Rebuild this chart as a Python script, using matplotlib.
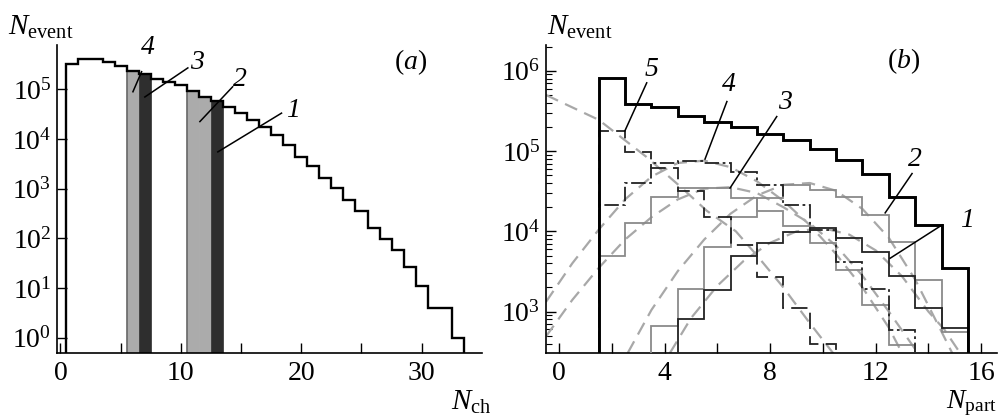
import numpy as np
import matplotlib
matplotlib.use("Agg")
import matplotlib.pyplot as plt

plt.rcParams['font.family'] = 'serif'
plt.rcParams['font.serif'] = ['Liberation Serif', 'DejaVu Serif']
plt.rcParams['mathtext.fontset'] = 'custom'
plt.rcParams['mathtext.rm'] = 'Liberation Serif'
plt.rcParams['mathtext.it'] = 'Liberation Serif:italic'

# ---- panel (a): N_ch distribution ----
nch = np.arange(1, 34)
nch_counts = [3.2e5, 4.1e5, 4.0e5, 3.5e5, 2.95e5, 2.37e5, 2.0e5, 1.6e5, 1.4e5, 1.22e5,
              9.2e4, 7.1e4, 5.9e4, 4.4e4, 3.3e4, 2.4e4, 1.74e4, 1.2e4, 7.6e3, 4.4e3,
              2.9e3, 1.66e3, 1.02e3, 590, 355, 164, 98, 59, 27, 11, 4, 4, 1]
grey_bins = [6, 11, 12]   # windows 4 and 2
dark_bins = [7, 13]       # windows 3 and 1

# ---- panel (b): N_part distributions ----
total_x = np.arange(2, 16)
total_y = [8.2e5, 3.85e5, 3.5e5, 2.7e5, 2.33e5, 2.0e5, 1.62e5, 1.38e5, 1.06e5, 7.8e4,
           5.2e4, 2.7e4, 1.2e4, 3.5e3]
c1_x = np.arange(5, 16)
c1_y = [800, 1860, 5000, 7200, 9800, 1.1e4, 8200, 5500, 2800, 1100, 620]
c2_x = np.arange(4, 16)
c2_y = [660, 1900, 6300, 1.5e4, 2.6e4, 3.8e4, 3.3e4, 2.7e4, 1.6e4, 7400, 2500, 560]
c3_x = np.arange(2, 14)
c3_y = [5000, 1.26e4, 2.7e4, 3.5e4, 3.5e4, 2.6e4, 1.8e4, 1.17e4, 7100, 3300, 1200, 380]
c4_x = np.arange(2, 14)
c4_y = [2.1e4, 4.0e4, 7.1e4, 7.5e4, 7.1e4, 5.5e4, 3.8e4, 2.1e4, 1.05e4, 4200, 1900, 590]
c5_x = np.arange(2, 11)
c5_y = [1.8e5, 9.8e4, 6.1e4, 3.2e4, 1.5e4, 6800, 2700, 1100, 400]

# fitted curves
f5_x = [-0.5, 1.5, 3.3, 4.6, 5.6, 6.7, 7.5, 8.5, 9.5, 10.4]
f5_y = [5.0e5, 2.45e5, 8.5e4, 3.6e4, 1.8e4, 1.0e4, 5.0e3, 2.0e3, 720, 300]
f4_x = [-0.5, 0.5, 1.5, 2.5, 3.5, 4.5, 5.5, 6.5, 7.5, 8.5, 9.5, 10.5, 11.5, 12.5, 13.0]
f4_y = [1320, 4000, 1.05e4, 2.5e4, 4.8e4, 7.1e4, 7.6e4, 6.3e4, 4.2e4, 2.4e4, 1.2e4,
        5200, 2000, 630, 305]
f3_x = [-0.5, 0.5, 1.5, 2.5, 3.5, 4.5, 5.5, 6.5, 7.5, 8.5, 9.5, 10.5, 11.5, 12.5, 13.6]
f3_y = [490, 1400, 3500, 7900, 1.5e4, 2.5e4, 3.4e4, 3.55e4, 3.0e4, 2.0e4, 1.26e4, 6600,
        2800, 1000, 305]
f2_x = [2.6, 3.5, 4.5, 5.5, 6.5, 7.5, 8.5, 9.5, 10.5, 11.5, 12.5, 13.5, 14.5, 14.9]
f2_y = [305, 1050, 3200, 7900, 1.66e4, 2.8e4, 3.8e4, 4.0e4, 3.2e4, 1.9e4, 8300, 2500,
        560, 305]
f1_x = [4.2, 5, 6, 7, 8, 9, 10, 11, 12, 13, 14, 14.6, 15.2]
f1_y = [305, 830, 2100, 4300, 7200, 1.0e4, 1.1e4, 9100, 5800, 2750, 1000, 600, 305]


def style_axes(ax):
    for s in ('top', 'right'):
        ax.spines[s].set_visible(False)
    for s in ('left', 'bottom'):
        ax.spines[s].set_linewidth(1.2)
    ax.set_yscale('log')
    ax.tick_params(which='major', direction='in', length=7.5, width=1.0,
                   labelsize=20, pad=4)
    ax.tick_params(which='minor', direction='in', length=4, width=0.8)
    ax.tick_params(axis='x', which='minor', length=7.5, width=1.0)
    ax.tick_params(axis='x', which='major', pad=6)


fig = plt.figure(figsize=(9.99, 4.18), dpi=100)

# ---------------- (a) ----------------
ax = fig.add_axes([0.057, 0.1555, 0.4254, 0.737])
style_axes(ax)
edges = np.append(nch - 0.5, nch[-1] + 0.5)
counts = np.array(nch_counts)
for b in grey_bins:
    ax.bar(b, counts[b - 1], width=1.0, bottom=1e-2, color='#ababab',
           edgecolor='#ababab', linewidth=0.5, zorder=2)
    if b - 1 not in grey_bins:
        ax.vlines(b - 0.5, 1e-2, counts[b - 1], color='#666666', lw=1.2, zorder=2)
for b in dark_bins:
    ax.bar(b, counts[b - 1], width=1.0, bottom=1e-2, color='#2e2e2e',
           edgecolor='#2e2e2e', linewidth=0.5, zorder=2)
ax.stairs(counts, edges, baseline=1e-2, color='black', linewidth=1.7, zorder=3)
ax.set_xlim(-0.29, 35)
ax.set_ylim(0.494, 7.8e5)
ax.set_xticks([0, 10, 20, 30])
ax.set_xticks([5, 15, 25], minor=True)
ax.set_yticks([1, 10, 100, 1e3, 1e4, 1e5])

for lab, tx, ty, x0, y0, x1, y1 in [('4', 7.26, 10**5.85, 6.74, 10**5.354, 6.02, 10**4.95),
                                    ('3', 11.3, 10**5.53, 10.58, 10**5.43, 7.01, 10**4.845),
                                    ('2', 14.9, 10**5.19, 14.3, 10**5.05, 11.58, 10**4.35),
                                    ('1', 19.3, 10**4.58, 18.36, 10**4.52, 13.07, 10**3.74)]:
    ax.plot([x0, x1], [y0, y1], color='black', lw=1.1, zorder=4)
    ax.text(tx, ty, lab, fontsize=20, style='italic', ha='center', va='center')
ax.text(29.1, 10**5.555, r'($a$)', fontsize=20, ha='center', va='center')
fig.text(0.008, 0.935, r'$N_{\rm event}$', fontsize=21, ha='left', va='center')
fig.text(0.492, 0.038, r'$N_{\rm ch}$', fontsize=21, ha='right', va='center')

# ---------------- (b) ----------------
ax = fig.add_axes([0.5465, 0.1555, 0.4515, 0.737])
style_axes(ax)
fit_kw = dict(color='#a8a8a8', lw=1.6, dashes=(6, 3.5), zorder=2)
for fx, fy in [(f5_x, f5_y), (f4_x, f4_y), (f3_x, f3_y), (f2_x, f2_y), (f1_x, f1_y)]:
    ax.plot(fx, fy, **fit_kw)


def hist(ax, x, y, **kw):
    x = np.asarray(x)
    e = np.append(x - 0.5, x[-1] + 0.5)
    ax.stairs(y, e, baseline=1.0, **kw)


hist(ax, c3_x, c3_y, color='#8a8a8a', lw=1.3, zorder=3)
hist(ax, c2_x, c2_y, color='#8a8a8a', lw=1.3, zorder=3)
hist(ax, c1_x, c1_y, color='#222222', lw=1.3, zorder=4)
hist(ax, c4_x, c4_y, color='#222222', lw=1.3, linestyle=(0, (8, 2, 1.5, 2)), zorder=4)
hist(ax, c5_x, c5_y, color='#222222', lw=1.3, linestyle=(0, (9, 4)), zorder=4)
hist(ax, total_x, total_y, color='black', lw=2.1, zorder=5)

ax.set_xlim(-0.5, 16.6)
ax.set_ylim(305, 2.1e6)
ax.set_xticks([0, 4, 8, 12, 16])
ax.set_xticks([2, 6, 10, 14], minor=True)
ax.set_yticks([1e3, 1e4, 1e5, 1e6])

for lab, tx, ty, x0, y0, x1, y1 in [('5', 3.51, 10**6.01, 3.32, 10**5.85, 2.49, 10**5.25),
                                    ('4', 6.42, 10**5.825, 6.36, 10**5.617, 5.53, 10**4.90),
                                    ('3', 8.57, 10**5.60, 8.25, 10**5.43, 6.48, 10**4.54),
                                    ('2', 13.5, 10**4.89, 13.38, 10**4.72, 12.36, 10**4.23),
                                    ('1', 15.47, 10**4.14, 14.52, 10**4.08, 12.55, 10**3.665)]:
    ax.plot([x0, x1], [y0, y1], color='black', lw=1.1, zorder=6)
    ax.text(tx, ty, lab, fontsize=20, style='italic', ha='center', va='center')
ax.text(13.06, 10**6.116, r'($b$)', fontsize=20, ha='center', va='center')
fig.text(0.548, 0.935, r'$N_{\rm event}$', fontsize=21, ha='left', va='center')
fig.text(0.998, 0.036, r'$N_{\rm part}$', fontsize=20, ha='right', va='center')

fig.savefig('out.png', dpi=100)
